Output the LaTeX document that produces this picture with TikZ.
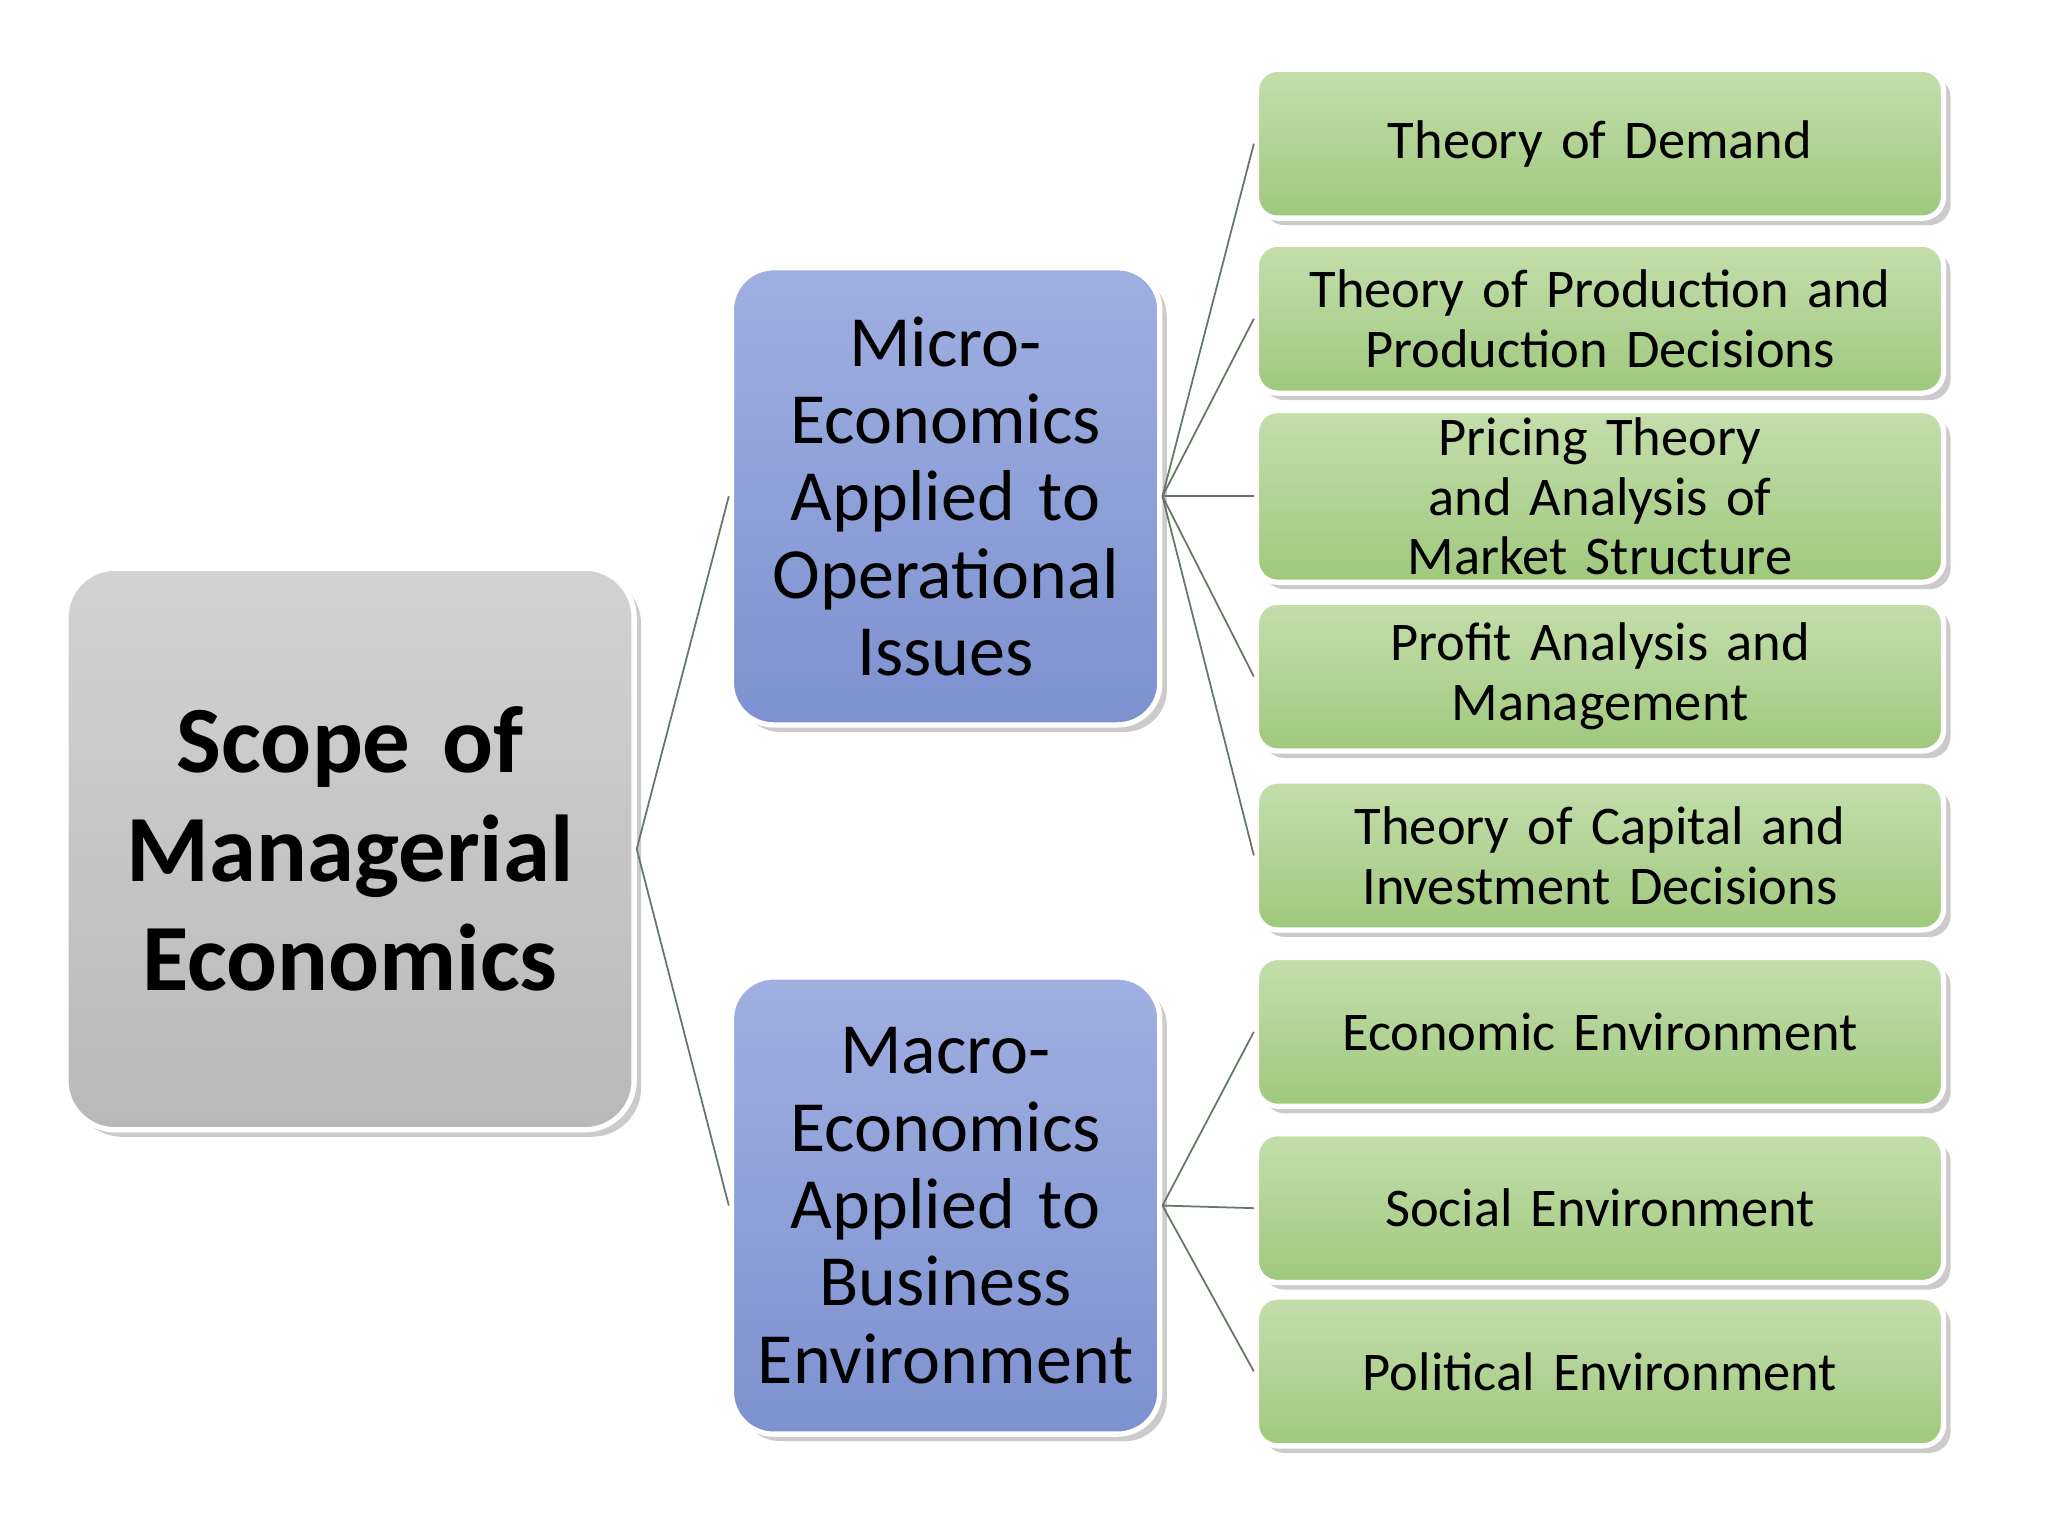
\documentclass[tikz,border=0pt]{standalone}
\usepackage{fontspec}
\setmainfont{Carlito}
\usetikzlibrary{shadows}
\begin{document}
\begin{tikzpicture}[x=0.013061cm,y=-0.013061cm,
 box/.style={rounded corners=6pt,align=center,draw=white,line width=1.5pt,inner sep=2pt,drop shadow={shadow xshift=2pt,shadow yshift=-2pt,fill=black!40,opacity=0.5}},
 grey/.style={box,rounded corners=14pt,top color=gray!35,bottom color=gray!55,font=\fontsize{27}{31}\selectfont\bfseries},
 blue/.style={box,rounded corners=12pt,top color={rgb,255:red,160;green,175;blue,225},bottom color={rgb,255:red,125;green,145;blue,208},font=\fontsize{20.5}{22}\selectfont},
 green/.style={box,top color={rgb,255:red,196;green,222;blue,172},bottom color={rgb,255:red,160;green,200;blue,125},font=\fontsize{15.5}{17}\selectfont},
 link/.style={draw={rgb,255:red,100;green,120;blue,100},line width=0.5pt}]
\useasboundingbox (0,0) rectangle (1568,1176);
\fill[white] (0,0) rectangle (1568,1176);
\node[grey,minimum width={435*0.013061cm},minimum height={430*0.013061cm},text width={400*0.013061cm}] (s) at (268,650) {Scope of\\Managerial\\Economics};
\node[blue,minimum width={328*0.013061cm},minimum height={350*0.013061cm},text width={300*0.013061cm}] (mi) at (724,380) {Micro-\\Economics\\Applied to\\Operational\\Issues};
\node[blue,minimum width={328*0.013061cm},minimum height={350*0.013061cm},text width={300*0.013061cm}] (ma) at (724,923) {Macro-\\Economics\\Applied to\\Business\\Environment};
\foreach \n/\y/\t in {g1/110/{Theory of Demand},g2/244/{Theory of Production and\\Production Decisions},g3/380/{Pricing Theory and Analysis of\\Market Structure},g4/518/{Profit Analysis and\\Management},g5/655/{Theory of Capital and\\Investment Decisions},g6/790/{Economic Environment},g7/925/{Social Environment},g8/1050/{Political Environment}}
 \node[green,minimum width={526*0.013061cm},minimum height={114*0.013061cm},text width={500*0.013061cm}] (\n) at (1225,\y) {\t};
\foreach \t in {mi,ma} \draw[link] (s.east) -- (\t.west);
\foreach \t in {g1,g2,g3,g4,g5} \draw[link] (mi.east) -- (\t.west);
\foreach \t in {g6,g7,g8} \draw[link] (ma.east) -- (\t.west);
\end{tikzpicture}
\end{document}
